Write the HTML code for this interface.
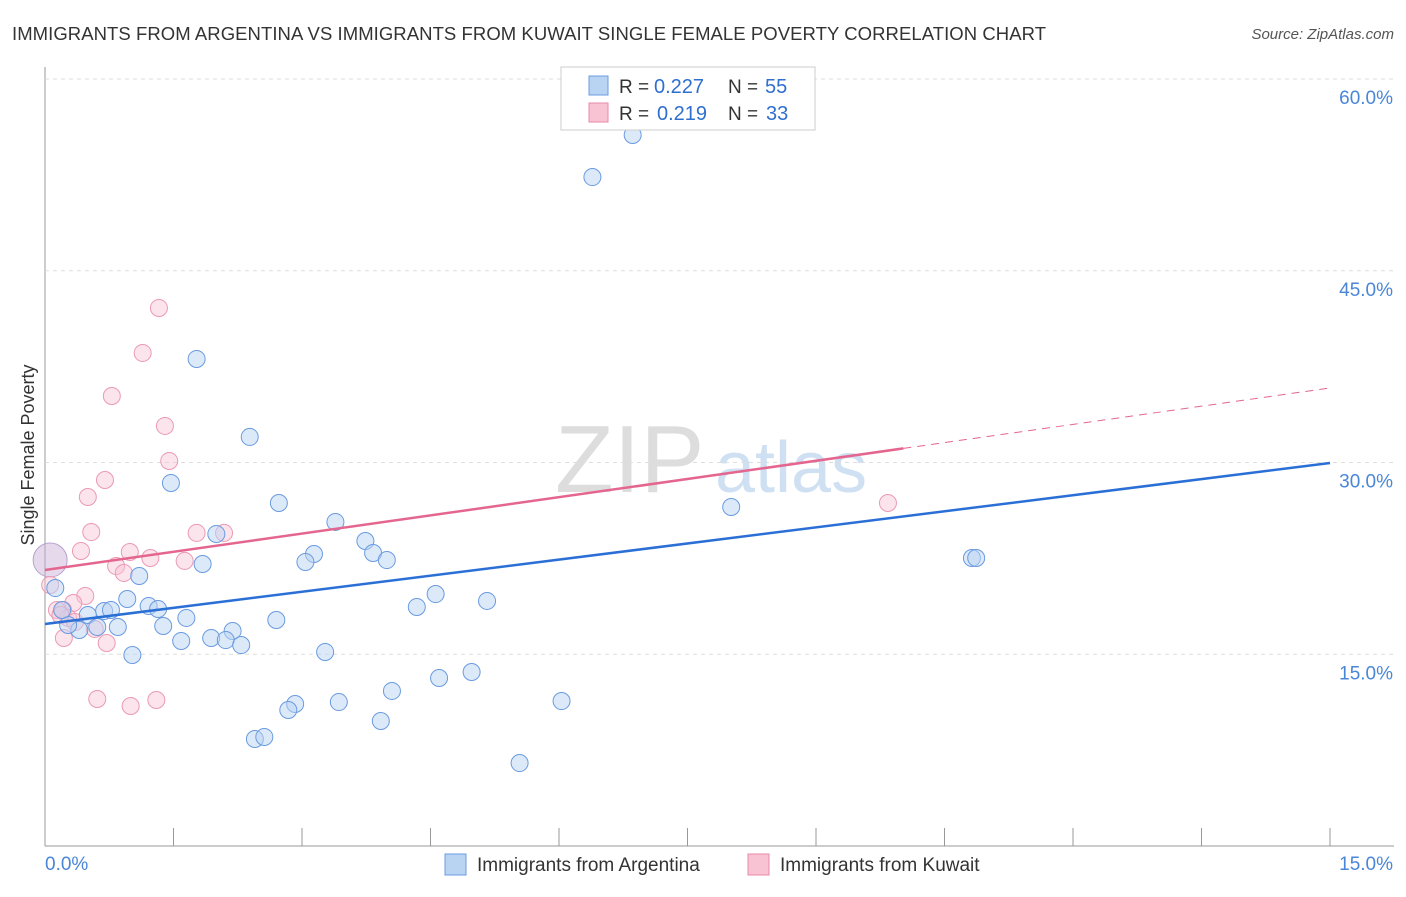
<!DOCTYPE html>
<html><head><meta charset="utf-8"><style>
body{margin:0;background:#fff;font-family:"Liberation Sans",sans-serif;}
svg text{font-family:"Liberation Sans",sans-serif;}
</style></head><body>
<svg width="1406" height="892" id="c">
<text x="12" y="40" font-size="18.5" textLength="1034" fill="#333">IMMIGRANTS FROM ARGENTINA VS IMMIGRANTS FROM KUWAIT SINGLE FEMALE POVERTY CORRELATION CHART</text>
<text x="1394" y="39" font-size="15" fill="#555" font-style="italic" text-anchor="end">Source: ZipAtlas.com</text>
<text x="555" y="492" font-size="96" fill="#ddd" font-family="Liberation Serif">ZIP</text>
<text x="715" y="492" font-size="72" fill="#cfe0f3">atlas</text>
<text transform="translate(34,455) rotate(-90)" font-size="18" fill="#333" text-anchor="middle">Single Female Poverty</text>
<g id="grid"></g><g id="pts"></g><g id="lines"></g>
<g>
<rect x="561" y="67" width="254" height="63" fill="#fff" stroke="#ccc"/>
<rect x="589" y="76" width="19" height="19" fill="#b9d3f3" stroke="#6a9be0"/>
<rect x="589" y="103" width="19" height="19" fill="#f8c4d4" stroke="#e88aa8"/>
<text x="619" y="93" font-size="19" fill="#333">R =</text>
<text x="654" y="93" font-size="20" fill="#2f6fd0">0.227</text>
<text x="728" y="93" font-size="19" fill="#333">N =</text>
<text x="765" y="93" font-size="20" fill="#2f6fd0">55</text>
<text x="619" y="120" font-size="19" fill="#333">R =</text>
<text x="657" y="120" font-size="20" fill="#2f6fd0">0.219</text>
<text x="728" y="120" font-size="19" fill="#333">N =</text>
<text x="766" y="120" font-size="20" fill="#2f6fd0">33</text>
</g>
<g>
<rect x="445" y="854" width="21" height="21" fill="#b9d3f3" stroke="#6a9be0"/>
<text x="477" y="871" font-size="19" fill="#333">Immigrants from Argentina</text>
<rect x="748" y="854" width="21" height="21" fill="#f8c4d4" stroke="#e88aa8"/>
<text x="780" y="871" font-size="19" fill="#333">Immigrants from Kuwait</text>
</g>
</svg>
<script>
const blueX=[6.86,6.39,1.77,2.39,1.47,2.73,8.01,2.00,3.39,3.74,3.14,3.04,3.83,3.99,1.84,1.10,10.82,10.87,4.56,5.16,4.34,0.96,1.21,1.32,0.69,0.77,0.50,1.65,2.70,1.38,0.85,0.61,0.40,0.27,2.19,1.94,2.11,2.29,1.59,1.02,3.27,4.98,4.60,4.05,2.92,2.84,3.43,6.03,3.92,2.45,2.56,5.54,0.12,0.20];
const blueY=[55.62,52.33,38.10,32.0,28.4,26.83,26.52,24.41,25.35,23.86,22.84,22.22,22.92,22.37,22.06,21.12,22.53,22.53,19.71,19.17,18.70,19.32,18.77,18.54,18.38,18.46,18.07,17.84,17.68,17.21,17.13,17.13,16.90,17.29,16.82,16.27,16.11,15.72,16.04,14.94,15.18,13.61,13.14,12.13,11.11,10.64,11.26,11.34,9.78,8.37,8.53,6.49,20.18,18.46];
const pinkX=[1.33,1.14,0.78,1.40,1.45,0.70,0.50,0.54,1.77,2.09,0.42,0.99,1.23,1.63,0.83,0.92,9.84,0.47,0.33,0.21,0.14,0.27,0.58,0.22,0.72,0.61,1.00,1.30,0.06,0.35,0.18];
const pinkY=[42.09,38.57,35.2,32.86,30.12,28.63,27.3,24.56,24.49,24.49,23.08,23.0,22.53,22.3,21.9,21.36,26.83,19.56,19.01,18.46,18.46,17.84,16.98,16.27,15.88,11.5,10.95,11.42,20.42,17.52,18.07];
const bigPt=[0.06,22.37];
const blueLine=[17.37,29.96];
const pinkLine=[21.59,35.83];
const pinkSolidEnd=10.02;
const xTicks=[0,1.5,3,4.5,6,7.5,9,10.5,12,13.5,15];
const yTicks=[15,30,45,60];
const yLabels=["15.0%","30.0%","45.0%","60.0%"];
const NS="http://www.w3.org/2000/svg";
const sx=v=>45+v/15*1285, sy=v=>846-v/60*767;
function mk(tag,at,parent){const e=document.createElementNS(NS,tag);for(const k in at)e.setAttribute(k,at[k]);document.getElementById(parent).appendChild(e);return e;}
const g='grid';
let ax=mk('line',{x1:45,y1:67,x2:45,y2:846,stroke:'#999'},g);


let bx=mk('line',{x1:45,y1:846,x2:1394,y2:846,stroke:'#999'},g);


yTicks.forEach((t,i)=>{
 let l=mk('line',{x1:45,x2:1394,y1:sy(t),y2:sy(t),stroke:'#ddd','stroke-dasharray':'4,4'},g);
 
 
 let tx=mk('text',{x:1393,y:sy(t)+25,'font-size':19,fill:'#4a86d8','text-anchor':'end'},g);tx.textContent=yLabels[i];
 
 
});
xTicks.forEach(t=>{
 let l=mk('line',{x1:sx(t),x2:sx(t),y1:828,y2:846,stroke:'#999'},g);
 
 
});
let x0=mk('text',{x:45,y:870,'font-size':19,fill:'#4a86d8'},g);x0.textContent='0.0%';


let x1=mk('text',{x:1393,y:870,'font-size':19,fill:'#4a86d8','text-anchor':'end'},g);x1.textContent='15.0%';


let big=mk('circle',{cx:sx(bigPt[0]),cy:sy(bigPt[1]),r:17,fill:'rgba(200,170,210,0.45)',stroke:'#b9a2cf'},'pts');


pinkX.forEach((x,i)=>{let c=mk('circle',{cx:sx(x),cy:sy(pinkY[i]),r:8.5,fill:'rgba(248,196,212,0.45)',stroke:'#eb9ab3'},'pts');
 
 });
blueX.forEach((x,i)=>{let c=mk('circle',{cx:sx(x),cy:sy(blueY[i]),r:8.5,fill:'rgba(185,211,243,0.5)',stroke:'#6a9be0'},'pts');
 
 });
const py=x=>pinkLine[0]+(pinkLine[1]-pinkLine[0])*x/15;
let bl=mk('line',{x1:sx(0),y1:sy(blueLine[0]),x2:sx(15),y2:sy(blueLine[1]),stroke:'#2a6fd6','stroke-width':2.5},'lines');


let pl=mk('line',{x1:sx(0),y1:sy(py(0)),x2:sx(pinkSolidEnd),y2:sy(py(pinkSolidEnd)),stroke:'#e4668f','stroke-width':2.5},'lines');


let pd=mk('line',{x1:sx(pinkSolidEnd),y1:sy(py(pinkSolidEnd)),x2:sx(15),y2:sy(py(15)),stroke:'#e4668f','stroke-width':1,'stroke-dasharray':'8,6'},'lines');


</script>
</body></html>
